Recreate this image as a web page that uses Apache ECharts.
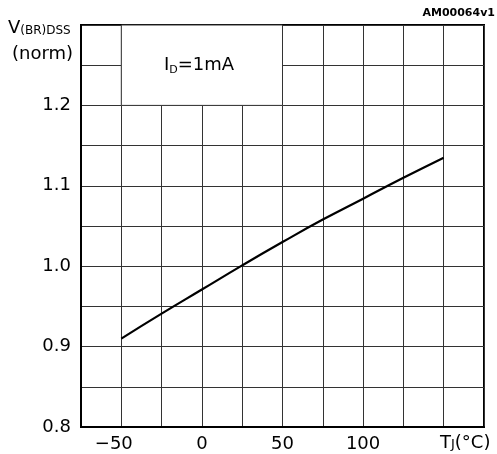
<!DOCTYPE html>
<html>
<head>
<meta charset="utf-8">
<script src="https://cdn.jsdelivr.net/npm/echarts@6/dist/echarts.min.js"></script>
<style>
  html, body { margin: 0; padding: 0; background: #fff; }
  #chart { width: 497px; height: 454px; }
</style>
</head>
<body>
<div id="chart"></div>
<script>
// junction temperature (°C) and normalized breakdown voltage
const tempC = [-50, -25, 0, 25, 50, 75, 100, 125, 150];
const vNorm = [0.910, 0.941, 0.971, 1.001, 1.030, 1.058, 1.084, 1.110, 1.135];
const xTickLabels = [-50, 0, 50, 100];
const yTickLabels = [0.8, 0.9, 1.0, 1.1, 1.2];

const FONT = 'DejaVu Sans';

const hasTick = (list, v) => list.some(t => Math.abs(t - v) < 1e-6);

const getOption = () => {
  return {
    animation: false,
    textStyle: { fontFamily: FONT },
    grid: {
      left: 81, right: 13, top: 25, bottom: 27,
      show: true, borderColor: '#000', borderWidth: 2
    },
    xAxis: {
      type: 'value', min: -75, max: 175, interval: 25,
      axisLine: { show: true, onZero: false, lineStyle: { color: '#000', width: 2 } },
      axisTick: { show: false },
      splitLine: { show: true, lineStyle: { color: '#333', width: 1 } },
      axisLabel: {
        margin: 8, fontSize: 18, color: '#000', fontFamily: FONT,
        formatter: v => {
          if (!hasTick(xTickLabels, v)) return '';
          if (v < 0) return '\u2212' + Math.abs(v) + '{p|}';
          return String(v);
        },
        rich: { p: { width: 15 } }
      }
    },
    yAxis: {
      type: 'value', min: 0.8, max: 1.3, interval: 0.05,
      axisLine: { show: true, onZero: false, lineStyle: { color: '#000', width: 2 } },
      axisTick: { show: false },
      splitLine: { show: true, lineStyle: { color: '#333', width: 1 } },
      axisLabel: {
        margin: 10, fontSize: 18, color: '#000', fontFamily: FONT,
        formatter: v => hasTick(yTickLabels, v) ? v.toFixed(1) : ''
      }
    },
    series: [
      {
        type: 'line',
        data: tempC.map((t, i) => [t, vNorm[i]]),
        smooth: true,
        showSymbol: false,
        lineStyle: { color: '#000', width: 2.2 },
        markArea: {
          silent: true,
          itemStyle: { color: '#fff', borderColor: '#333', borderWidth: 1 },
          data: [[{ coord: [-50, 1.2] }, { coord: [50, 1.3] }]]
        }
      }
    ],
    graphic: [
      {
        type: 'text', left: 8, top: 19, z: 100,
        style: {
          text: '{v|V}{s|(BR)DSS}',
          rich: {
            v: { fontSize: 18, fontFamily: FONT, fill: '#000' },
            s: { fontSize: 12, fontFamily: FONT, fill: '#000', verticalAlign: 'bottom', padding: [6, 0, 0, 0] }
          }
        }
      },
      {
        type: 'text', left: 12, top: 45, z: 100,
        style: { text: '(norm)', fontSize: 18, fontFamily: FONT, fill: '#000' }
      },
      {
        type: 'text', right: 2, top: 8, z: 100,
        style: { text: 'AM00064v1', fontSize: 11, fontWeight: 'bold', fontFamily: FONT, fill: '#000' }
      },
      {
        type: 'text', left: 164, top: 56, z: 100,
        style: {
          text: '{a|I}{b|D}{a|=1mA}',
          rich: {
            a: { fontSize: 18, fontFamily: FONT, fill: '#000' },
            b: { fontSize: 11, fontFamily: FONT, fill: '#000', padding: [10, 0, 0, 0] }
          }
        }
      },
      {
        type: 'text', left: 440, top: 434, z: 100,
        style: {
          text: '{a|T}{b|J}{a|(°C)}',
          rich: {
            a: { fontSize: 18, fontFamily: FONT, fill: '#000' },
            b: { fontSize: 13, fontFamily: FONT, fill: '#000', padding: [3, 0, 0, 0] }
          }
        }
      }
    ]
  };
};

window.addEventListener('load', () => {
  const chart = echarts.init(document.getElementById('chart'), null, { renderer: 'canvas' });
  chart.setOption(getOption());
});
</script>
</body>
</html>
